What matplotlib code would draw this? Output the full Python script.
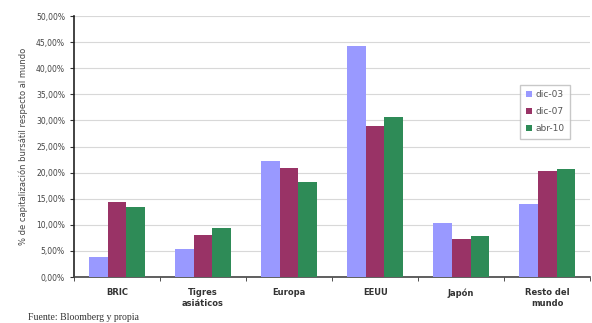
import matplotlib
matplotlib.use("Agg")
import matplotlib.pyplot as plt
import numpy as np
from matplotlib.ticker import FuncFormatter, FixedLocator

categories = ["BRIC", "Tigres\nasiáticos", "Europa", "EEUU", "Japón", "Resto del\nmundo"]
series_names = ["dic-03", "dic-07", "abr-10"]
dic03 = [3.9, 5.4, 22.3, 44.3, 10.3, 14.0]
dic07 = [14.3, 8.1, 20.9, 28.9, 7.3, 20.3]
abr10 = [13.4, 9.4, 18.2, 30.7, 7.9, 20.7]
colors = ["#9999FF", "#993366", "#2E8B57"]

fig = plt.figure(figsize=(5.92, 3.23), dpi=100)
ax = fig.add_axes([0.125, 0.1424, 0.872, 0.8076])

x = np.arange(len(categories))
w = 0.217
for i, (vals, name, c) in enumerate(zip([dic03, dic07, abr10], series_names, colors)):
    ax.bar(x + (i - 1) * w, vals, width=w, color=c, label=name, zorder=3)

ax.set_xlim(-0.5, len(categories) - 0.5)
ax.set_ylim(0, 50)
ax.set_yticks(np.arange(0, 50.1, 5))
ax.yaxis.set_major_formatter(FuncFormatter(lambda v, p: f"{v:.2f}%".replace(".", ",")))
ax.grid(axis="y", color="#d8d8d8", linewidth=0.8, zorder=0)
ax.set_xticks(x)
ax.set_xticklabels(categories, fontsize=6, fontweight="bold", color="#333333")
ax.xaxis.set_minor_locator(FixedLocator(np.arange(-0.5, len(categories), 1)))
ax.tick_params(axis="x", which="major", length=0, pad=8)
ax.tick_params(axis="x", which="minor", length=3, color="#333333")
ax.tick_params(axis="y", labelsize=5.5, labelcolor="#444444", length=3, color="#333333")
for s in ["top", "right"]:
    ax.spines[s].set_visible(False)
ax.spines["left"].set_color("#222222")
ax.spines["bottom"].set_color("#444444")
ax.spines["left"].set_linewidth(1.2)
ax.spines["bottom"].set_linewidth(1.2)

ax.set_ylabel("% de capitalización bursátil respecto al mundo", fontsize=6, color="#444444", labelpad=6)

leg = ax.legend(loc="upper left", bbox_to_anchor=(0.856, 0.755), fontsize=6.5, frameon=True,
                fancybox=False, edgecolor="#bbbbbb", handlelength=0.7, handleheight=0.7,
                handletextpad=0.4, borderpad=0.6, labelspacing=0.9)
for t in leg.get_texts():
    t.set_color("#555555")

fig.text(0.047, 0.008, "Fuente: Bloomberg y propia", fontsize=7, family="Liberation Serif", color="#333333")

fig.savefig("out.png", dpi=100)
